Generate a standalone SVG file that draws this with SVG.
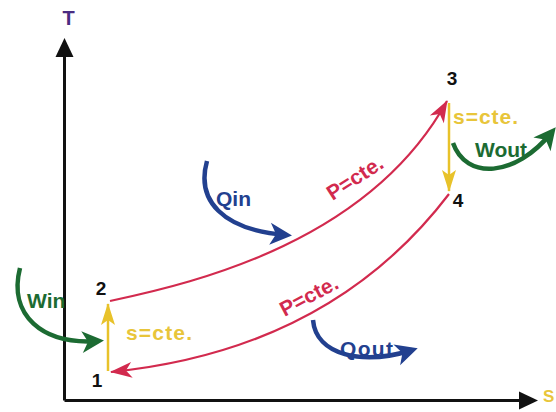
<svg xmlns="http://www.w3.org/2000/svg" width="556" height="412" viewBox="0 0 556 412">
<style>
  text { font-family: "Liberation Sans", Arial, sans-serif; font-weight: bold; }
  .pt { font-size: 19px; fill: #111; text-anchor: middle; }
  .red { fill: none; stroke: #d22a4e; stroke-width: 2.2; }
  .yel { fill: none; stroke: #e8c22a; stroke-width: 2.5; }
  .blue { fill: none; stroke: #22408f; stroke-width: 4.5; }
  .green { fill: none; stroke: #1c6b32; stroke-width: 4.5; }
  .axis { fill: none; stroke: #111; stroke-width: 3; }
  .tred { font-size: 21px; fill: #d22a4e; }
  .tyel { font-size: 21px; fill: #e8c53a; }
  .tblue { font-size: 21px; fill: #22408f; }
  .tgreen { font-size: 21px; fill: #1c6b32; }
</style>
<defs>
  <marker id="hAxis" markerUnits="userSpaceOnUse" orient="auto" refX="0" refY="0" markerWidth="40" markerHeight="40" viewBox="-30 -20 40 40" overflow="visible">
    <path d="M3,0 L-16,-9 L-16,9 Z" fill="#111"/>
  </marker>
  <marker id="hRed" markerUnits="userSpaceOnUse" orient="auto" refX="0" refY="0" markerWidth="40" markerHeight="40" viewBox="-30 -20 40 40" overflow="visible">
    <path d="M1,0 L-21,-8 L-15,0 L-21,8 Z" fill="#d22a4e"/>
  </marker>
  <marker id="hYel" markerUnits="userSpaceOnUse" orient="auto" refX="0" refY="0" markerWidth="40" markerHeight="40" viewBox="-30 -20 40 40" overflow="visible">
    <path d="M1,0 L-21,-7 L-16,0 L-21,7 Z" fill="#e8c22a"/>
  </marker>
  <marker id="hBlue" markerUnits="userSpaceOnUse" orient="auto" refX="0" refY="0" markerWidth="40" markerHeight="40" viewBox="-30 -20 40 40" overflow="visible">
    <path d="M6,0 L-16,-11 L-10,0 L-16,11 Z" fill="#22408f"/>
  </marker>
  <marker id="hGreen" markerUnits="userSpaceOnUse" orient="auto" refX="0" refY="0" markerWidth="40" markerHeight="40" viewBox="-30 -20 40 40" overflow="visible">
    <path d="M6,0 L-16,-11 L-10,0 L-16,11 Z" fill="#1c6b32"/>
  </marker>
</defs>
<rect width="556" height="412" fill="#ffffff"/>

<g id="axes">
  <path class="axis" d="M64.5,400.5 L64.5,41" marker-end="url(#hAxis)"/>
  <path class="axis" d="M64.5,400.5 L535,400.5" marker-end="url(#hAxis)"/>
  <text x="68.5" y="25" font-size="20" fill="#4a2c82" text-anchor="middle">T</text>
  <text x="543" y="402" font-size="17" fill="#e8c53a">S</text>
</g>

<g id="connectors">
  <path id="p12" class="yel" d="M108,371 L108,304" marker-end="url(#hYel)"/>
  <path id="p23" class="red" d="M110,301 C200,282 370,240 447,101" marker-end="url(#hRed)"/>
  <path id="p34" class="yel" d="M449,103 L449,191" marker-end="url(#hYel)"/>
  <path id="p41" class="red" d="M449,194 Q330,350 111,372" marker-end="url(#hRed)"/>
  <path id="qin" class="blue" d="M207,161 C196,200 222,230 286,235" marker-end="url(#hBlue)"/>
  <path id="qout" class="blue" d="M313,320 C316,355 362,366 412,350" marker-end="url(#hBlue)"/>
  <path id="win" class="green" d="M20,268 C8,315 42,345 98,341" marker-end="url(#hGreen)"/>
  <path id="wout" class="green" d="M453,143 C466,180 515,178 552,132" marker-end="url(#hGreen)"/>
</g>

<g id="node-1"><text class="pt" x="97" y="387">1</text></g>
<g id="node-2"><text class="pt" x="101" y="295">2</text></g>
<g id="node-3"><text class="pt" x="452" y="85">3</text></g>
<g id="node-4"><text class="pt" x="458" y="207">4</text></g>

<g id="labels">
  <text class="tyel" x="126" y="340" textLength="66" lengthAdjust="spacing">s=cte.</text>
  <text class="tyel" x="453" y="124" textLength="65" lengthAdjust="spacing">s=cte.</text>
  <text class="tred" transform="translate(355,178) rotate(-33)" x="0" y="7" text-anchor="middle" textLength="63" lengthAdjust="spacing">P=cte.</text>
  <text class="tred" transform="translate(309,296) rotate(-28)" x="0" y="7" text-anchor="middle" textLength="63" lengthAdjust="spacing">P=cte.</text>
  <text class="tblue" x="216" y="206" font-size="19">Qin</text>
  <text class="tblue" x="340" y="356" textLength="53" lengthAdjust="spacing">Qout</text>
  <text class="tgreen" x="27" y="308" font-size="19">Win</text>
  <text class="tgreen" x="475" y="157" textLength="52" lengthAdjust="spacing">Wout</text>
</g>
</svg>
